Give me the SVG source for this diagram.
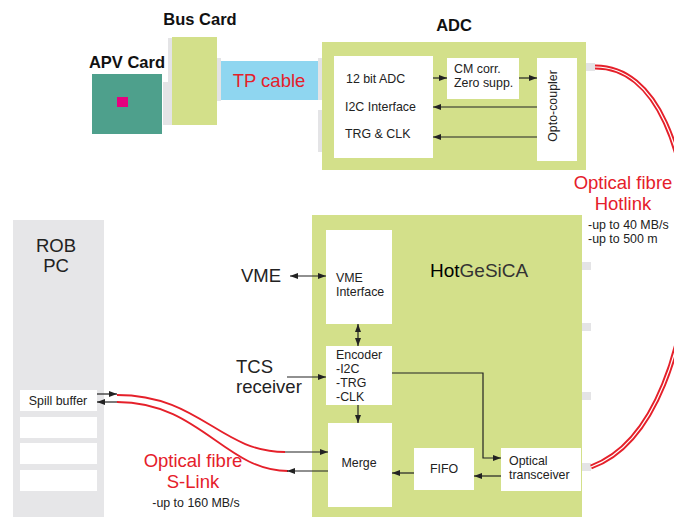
<svg xmlns="http://www.w3.org/2000/svg" width="674" height="517" viewBox="0 0 674 517">
<defs>
<marker id="ah" viewBox="0 0 8 6" markerWidth="8" markerHeight="6" refX="8" refY="3" orient="auto-start-reverse" markerUnits="userSpaceOnUse"><path d="M0,0 L8,3 L0,6 z" fill="#222"/></marker>
</defs>
<style>
text{font-family:"Liberation Sans",Arial,sans-serif;fill:#222}
.t11{font-size:12.4px}
.t17{font-size:18.5px}
.b{font-weight:bold;font-size:16.5px;fill:#111}
.red{fill:#e5202a}
.green{fill:#d3e08a}
.wbox{fill:#fff}
.conn{fill:#e4e4e6}
.ln{stroke:#222;stroke-width:1.2;fill:none}
.ar{marker-end:url(#ah)}
.ar2{marker-start:url(#ah);marker-end:url(#ah)}
.fib{stroke:#e5202a;stroke-width:1.8;fill:none}
</style>
<rect width="674" height="517" fill="#fff"/>

<g id="apv">
<text class="b" x="127" y="68" text-anchor="middle">APV Card</text>
<rect x="92" y="74" width="70" height="60" fill="#4ea08c"/>
<rect x="117" y="97" width="11" height="10" fill="#e6007e"/>
<rect class="conn" x="163" y="82" width="6" height="43"/>
</g>

<g id="buscard">
<text class="b" x="200" y="25" text-anchor="middle">Bus Card</text>
<rect class="conn" x="168" y="38" width="5" height="87"/>
<rect class="green" x="172" y="37" width="45" height="88"/>
<rect class="conn" x="217" y="58" width="4" height="43"/>
</g>

<g id="tpcable">
<rect x="221" y="61" width="98" height="39" fill="#8fd6f0"/>
<text class="t17 red" x="269" y="87" text-anchor="middle">TP cable</text>
<rect class="conn" x="318" y="58" width="4" height="42"/>
<rect class="conn" x="318" y="110" width="4" height="42"/>
</g>

<g id="adc">
<text class="b" x="454" y="31" text-anchor="middle">ADC</text>
<rect class="green" x="322" y="42" width="264" height="128"/>
<rect class="conn" x="586" y="63" width="9" height="8"/>
</g>
<g id="adc12">
<rect class="wbox" x="334" y="56" width="99" height="102"/>
<text class="t11" x="346" y="83">12 bit ADC</text>
<text class="t11" x="345" y="111">I2C Interface</text>
<text class="t11" x="345" y="138">TRG &amp; CLK</text>
</g>
<g id="cmcorr">
<rect class="wbox" x="447" y="58" width="72" height="41"/>
<text class="t11" x="454" y="73">CM corr.</text>
<text class="t11" x="454" y="87">Zero supp.</text>
</g>
<g id="opto">
<rect class="wbox" x="537" y="58" width="40" height="103"/>
<text class="t11" x="561" y="110" text-anchor="middle" transform="rotate(-90 557 110)">Opto-coupler</text>
</g>

<g id="hotlink-label">
<text class="t17 red" x="623" y="189" text-anchor="middle">Optical fibre</text>
<text class="t17 red" x="623" y="210" text-anchor="middle">Hotlink</text>
<text class="t11" x="588" y="229">-up to 40 MB/s</text>
<text class="t11" x="588" y="243">-up to 500 m</text>
</g>

<g id="robpc">
<rect x="13" y="220" width="91" height="300" fill="#e6e6e8"/>
<text class="t17" x="56" y="252" text-anchor="middle">ROB</text>
<text class="t17" x="56" y="272" text-anchor="middle">PC</text>
</g>
<g id="spill">
<rect class="wbox" x="20" y="390" width="77" height="21"/>
<text class="t11" x="58" y="405" text-anchor="middle">Spill buffer</text>
</g>
<g id="rob-slots">
<rect class="wbox" x="20" y="417" width="77" height="21"/>
<rect class="wbox" x="20" y="443" width="77" height="21"/>
<rect class="wbox" x="20" y="470" width="77" height="21"/>
</g>

<g id="slink-label">
<text class="t17 red" x="193" y="467" text-anchor="middle">Optical fibre</text>
<text class="t17 red" x="193" y="488" text-anchor="middle">S-Link</text>
<text class="t11" x="196" y="507" text-anchor="middle">-up to 160 MB/s</text>
</g>

<g id="vme-label"><text class="t17" x="241" y="282">VME</text></g>
<g id="tcs-label">
<text class="t17" x="236" y="373">TCS</text>
<text class="t17" x="236" y="393">receiver</text>
</g>

<g id="hotgesica">
<rect class="green" x="312" y="215" width="270" height="305"/>
<text x="430" y="277" style="font-size:19px"><tspan style="fill:#000">Hot</tspan><tspan style="fill:#333">GeSiCA</tspan></text>
<rect class="conn" x="582" y="262" width="9" height="8"/>
<rect class="conn" x="582" y="323" width="9" height="8"/>
<rect class="conn" x="582" y="392" width="9" height="8"/>
<rect class="conn" x="582" y="463" width="9" height="8"/>
</g>
<g id="vmeif">
<rect class="wbox" x="326" y="230" width="66" height="94"/>
<text class="t11" x="336" y="282">VME</text>
<text class="t11" x="336" y="296">Interface</text>
</g>
<g id="encoder">
<rect class="wbox" x="326" y="346" width="66" height="59"/>
<text class="t11" x="336" y="359">Encoder</text>
<text class="t11" x="336" y="373">-I2C</text>
<text class="t11" x="336" y="387">-TRG</text>
<text class="t11" x="336" y="401">-CLK</text>
</g>
<g id="merge">
<rect class="wbox" x="328" y="423" width="64" height="84"/>
<text class="t11" x="359" y="467" text-anchor="middle">Merge</text>
</g>
<g id="fifo">
<rect class="wbox" x="414" y="448" width="60" height="42"/>
<text class="t11" x="444" y="473" text-anchor="middle">FIFO</text>
</g>
<g id="transceiver">
<rect class="wbox" x="501" y="448" width="80" height="43"/>
<text class="t11" x="509" y="465">Optical</text>
<text class="t11" x="509" y="479">transceiver</text>
</g>

<g id="connectors">
<path class="ln ar" d="M433,78 H447"/>
<path class="ln ar" d="M519,78 H537"/>
<path class="ln ar" d="M537,107 H433"/>
<path class="ln ar" d="M537,137 H433"/>
<path d="M595,67 C720,66 720,420 591,467" stroke="#e5202a" stroke-width="5" fill="none"/>
<path d="M595,67 C720,66 720,420 591,467" stroke="#fff" stroke-width="1.2" fill="none"/>
<path class="ln ar2" d="M290,276 H326"/>
<path class="ln ar" d="M287,377 H326"/>
<path class="ln ar2" d="M358,324 V346"/>
<path class="ln ar" d="M358,405 V423"/>
<path class="ln ar" d="M392,373 H483 V458 H501"/>
<path class="ln ar" d="M501,476 H474"/>
<path class="ln ar" d="M414,473 H392"/>
<path class="ln ar" d="M97,394 H117"/>
<path class="ln ar" d="M117,402 H97"/>
<path class="fib" d="M117,395 C200,395 220,452 285,452"/>
<path class="fib" d="M117,402 C200,402 225,471 288,471"/>
<path class="ln ar" d="M285,452 H328"/>
<path class="ln ar" d="M328,471 H287"/>
</g>
</svg>
